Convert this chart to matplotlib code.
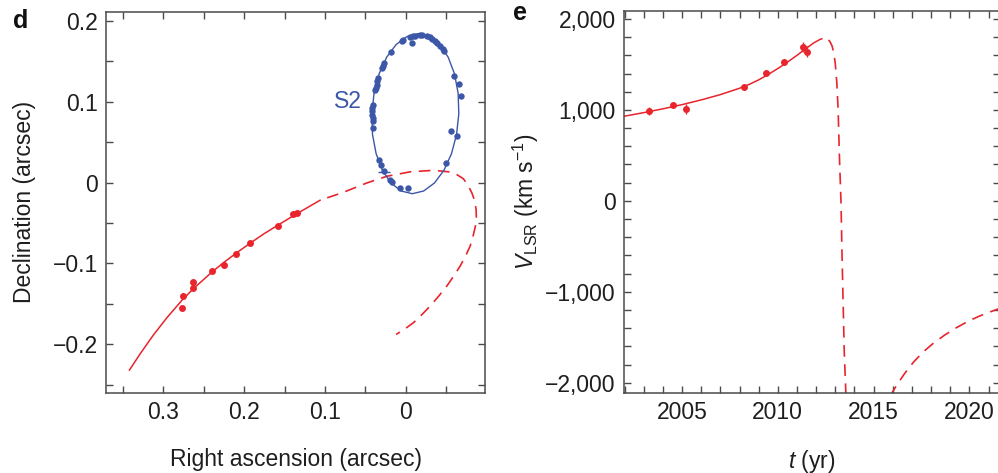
import matplotlib
matplotlib.use("Agg")
import matplotlib.pyplot as plt
from matplotlib.ticker import MultipleLocator, FixedLocator, FixedFormatter

plt.rcParams['font.family'] = ['Liberation Sans', 'DejaVu Sans']
plt.rcParams['mathtext.fontset'] = 'custom'
plt.rcParams['mathtext.rm'] = 'Liberation Sans'
plt.rcParams['mathtext.it'] = 'Liberation Sans:italic'
plt.rcParams['mathtext.bf'] = 'Liberation Sans:bold'

RED = '#e8242c'
BLUE = '#3c56a8'
AXC = '#4a4a4a'
TXT = '#1e1e1e'

# ---------------- Panel d data ----------------
g2_ra = [0.2772, 0.2760, 0.2636, 0.2629, 0.2397, 0.2252, 0.2100, 0.1931, 0.1584, 0.1399, 0.1345]
g2_dec = [-0.1556, -0.1404, -0.1235, -0.1305, -0.1095, -0.1021, -0.0877, -0.0741, -0.0540, -0.0395, -0.0379]

g2_fit_ra = [0.3420, 0.3288, 0.3123, 0.2958, 0.2760, 0.2628, 0.2397, 0.2249, 0.2100, 0.1931,
             0.1758, 0.1585, 0.1345, 0.1061]
g2_fit_dec = [-0.2317, -0.2117, -0.1883, -0.1672, -0.1443, -0.1311, -0.1104, -0.0985, -0.0873, -0.0753,
              -0.0635, -0.0528, -0.0383, -0.0219]

g2_pred_ra = [0.1061, 0.0772, 0.0483, 0.0235, -0.0053, -0.0301, -0.0425, -0.0548, -0.0635, -0.0713,
              -0.0771, -0.0817, -0.0851, -0.0870, -0.0873, -0.0861, -0.0833, -0.0796, -0.0740, -0.0672,
              -0.0594, -0.0507, -0.0406, -0.0301, -0.0198, -0.0094, 0.0012, 0.0120]
g2_pred_dec = [-0.0219, -0.0121, -0.0006, 0.0077, 0.0132, 0.0148, 0.0143, 0.0130, 0.0096, 0.0046,
               -0.0037, -0.0127, -0.0222, -0.0333, -0.0432, -0.0540, -0.0660, -0.0786, -0.0907, -0.1033,
               -0.1154, -0.1280, -0.1405, -0.1527, -0.1633, -0.1732, -0.1809, -0.1877]

s2_orbit_ra = [-0.01547, -0.02928, -0.04189, -0.05245, -0.06023, -0.06473, -0.06559, -0.06280,
               -0.05652, -0.04720, -0.03546, -0.02210, -0.00804, 0.00577, 0.01838, 0.02894,
               0.03672, 0.04121, 0.04208, 0.03928, 0.03301, 0.02369, 0.01194, -0.00141, -0.01547]
s2_orbit_dec = [0.18370, 0.18033, 0.17047, 0.15478, 0.13432, 0.11049, 0.08494, 0.05938,
                0.03556, 0.01510, -0.00059, -0.01046, -0.01383, -0.01046, -0.00059, 0.01510,
                0.03556, 0.05938, 0.08494, 0.11049, 0.13432, 0.15478, 0.17047, 0.18033, 0.18370]

s2_ra = [0.0050, 0.0030, -0.0053, -0.0087, -0.0115, -0.0177, -0.0198, -0.0260, -0.0301, -0.0322, -0.0363,
         -0.0391, -0.0425, -0.0458, -0.0474, -0.0074, 0.0186, 0.0269, 0.0285, 0.0297, 0.0339, 0.0351,
         0.0359, 0.0368, 0.0376, 0.0408, 0.0413, 0.0413, 0.0413, 0.0408, 0.0401, 0.0408, -0.0601,
         -0.0663, -0.0684, -0.0557, -0.0631, -0.0499, 0.0327, 0.0306, 0.0269, 0.0194, 0.0173, 0.0071, -0.0032]
s2_dec = [0.1744, 0.1757, 0.1799, 0.1815, 0.1806, 0.1819, 0.1823, 0.1806, 0.1799, 0.1774, 0.1744,
          0.1725, 0.1683, 0.1651, 0.1621, 0.1725, 0.1614, 0.1478, 0.1436, 0.1416, 0.1293, 0.1251,
          0.1210, 0.1169, 0.1140, 0.0963, 0.0922, 0.0880, 0.0840, 0.0799, 0.0757, 0.0675, 0.1312,
          0.1222, 0.1065, 0.0642, 0.0580, 0.0243, 0.0275, 0.0214, 0.0140, 0.0037, 0.0004, -0.0070, -0.0065]

sgr_ra = [0.027]
sgr_dec = [0.0135]

d_xticks = [0.3, 0.2, 0.1, 0.0]
d_xticklabels = ['0.3', '0.2', '0.1', '0']
d_yticks = [0.2, 0.1, 0.0, -0.1, -0.2]
d_yticklabels = ['0.2', '0.1', '0', '\u22120.1', '\u22120.2']

# ---------------- Panel e data ----------------
v_t = [2003.27, 2004.53, 2005.21, 2008.23, 2009.37, 2010.33, 2011.29, 2011.55]
v_val = [992, 1051, 1011, 1256, 1407, 1523, 1696, 1641]
v_err = [45, 25, 55, 20, 25, 25, 55, 60]

vfit_t = [2001.97, 2003.0, 2004.0, 2005.0, 2006.0, 2007.0, 2008.0, 2008.5, 2009.0, 2009.5,
          2010.0, 2010.5, 2011.0, 2011.5, 2011.9, 2012.2, 2012.3]
vfit_v = [930, 970, 1012, 1058, 1110, 1168, 1238, 1280, 1330, 1390,
          1455, 1525, 1600, 1680, 1740, 1775, 1782]

vpred1_t = [2012.30, 2012.45, 2012.60, 2012.72, 2012.83, 2012.92, 2013.00, 2013.08, 2013.15,
            2013.21, 2013.30, 2013.35, 2013.41, 2013.47, 2013.56]
vpred1_v = [1782, 1792, 1782, 1752, 1705, 1630, 1510, 1300, 1000,
            527, -22, -571, -1121, -1670, -2150]

vpred2_t = [2015.85, 2016.2, 2016.6, 2017.1, 2017.6, 2018.1, 2018.7, 2019.3, 2019.95, 2020.5, 2021.0, 2021.6]
vpred2_v = [-2150, -2030, -1905, -1770, -1660, -1570, -1478, -1398, -1323, -1270, -1228, -1182]

e_xticks = [2005, 2010, 2015, 2020]
e_xticklabels = ['2005', '2010', '2015', '2020']
e_yticks = [2000, 1000, 0, -1000, -2000]
e_yticklabels = ['2,000', '1,000', '0', '\u22121,000', '\u22122,000']

W, H = 998, 473
fig = plt.figure(figsize=(W / 100, H / 100), dpi=100)

def style_axes(ax):
    for s in ax.spines.values():
        s.set_color(AXC)
        s.set_linewidth(1.1)
    ax.tick_params(which='both', direction='in', top=True, right=True,
                   length=5.3, width=1.0, color=AXC, labelsize=16.5,
                   labelcolor=TXT, pad=6)

DASH = (0, (7, 4.5))
DASH_GAP = (7, (7, 4.5))

# Panel d
axd = fig.add_axes([106 / W, 1 - 393 / H, (485 - 106) / W, (393 - 11.7) / H])
style_axes(axd)
axd.plot(g2_fit_ra, g2_fit_dec, color=RED, lw=1.1)
axd.plot(g2_pred_ra, g2_pred_dec, color=RED, lw=1.2, linestyle=DASH_GAP)
axd.plot(g2_ra, g2_dec, 'o', color=RED, ms=5.0, mec='none')
axd.plot(s2_orbit_ra, s2_orbit_dec, color=BLUE, lw=1.0)
axd.plot(s2_ra, s2_dec, 'o', color=BLUE, ms=4.6, mec='none')
axd.errorbar(sgr_ra, sgr_dec, xerr=0.008, yerr=0.003, fmt='none', ecolor=BLUE, elinewidth=1.0)
axd.text(0.0715, 0.100, 'S2', color=BLUE, fontsize=16.5, ha='center', va='center')
axd.set_xlim(0.371, -0.098)
axd.set_ylim(-0.260, 0.211)
axd.xaxis.set_major_locator(FixedLocator(d_xticks))
axd.xaxis.set_major_formatter(FixedFormatter(d_xticklabels))
axd.yaxis.set_major_locator(FixedLocator(d_yticks))
axd.yaxis.set_major_formatter(FixedFormatter(d_yticklabels))
axd.xaxis.set_minor_locator(MultipleLocator(0.05))
axd.yaxis.set_minor_locator(MultipleLocator(0.05))
axd.set_xlabel('Right ascension (arcsec)', fontsize=16.5, color=TXT, labelpad=17)
axd.set_ylabel('Declination (arcsec)', fontsize=16.5, color=TXT, labelpad=12)

# Panel e
axe = fig.add_axes([624 / W, 1 - 392.7 / H, (W - 624 + 2) / W, (392.7 - 10.7) / H])
style_axes(axe)
axe.spines['right'].set_visible(False)
axe.plot(vfit_t, vfit_v, color=RED, lw=1.1)
axe.plot(vpred1_t, vpred1_v, color=RED, lw=1.2, linestyle=DASH_GAP)
axe.plot(vpred2_t, vpred2_v, color=RED, lw=1.2, linestyle=DASH)
axe.errorbar(v_t, v_val, yerr=v_err, fmt='o', color=RED, ms=5.0, mec='none',
             elinewidth=1.0, capsize=0)
axe.set_xlim(2001.97, 2021.6)
axe.set_ylim(-2110, 2091)
axe.xaxis.set_major_locator(FixedLocator(e_xticks))
axe.xaxis.set_major_formatter(FixedFormatter(e_xticklabels))
axe.yaxis.set_major_locator(FixedLocator(e_yticks))
axe.yaxis.set_major_formatter(FixedFormatter(e_yticklabels))
axe.xaxis.set_minor_locator(MultipleLocator(1))
axe.yaxis.set_minor_locator(MultipleLocator(200))
axe.set_xlabel('$t$ (yr)', fontsize=16.5, color=TXT, labelpad=17)
axe.set_ylabel('$V_{\\mathrm{LSR}}$ (km s$^{-1}$)', fontsize=16.5, color=TXT, labelpad=3)

fig.text(13 / W, 1 - 28 / H, 'd', fontsize=18, fontweight='bold', color='#111111', va='baseline')
fig.text(513 / W, 1 - 20 / H, 'e', fontsize=18, fontweight='bold', color='#111111', va='baseline')

fig.savefig('out.png', dpi=100)
